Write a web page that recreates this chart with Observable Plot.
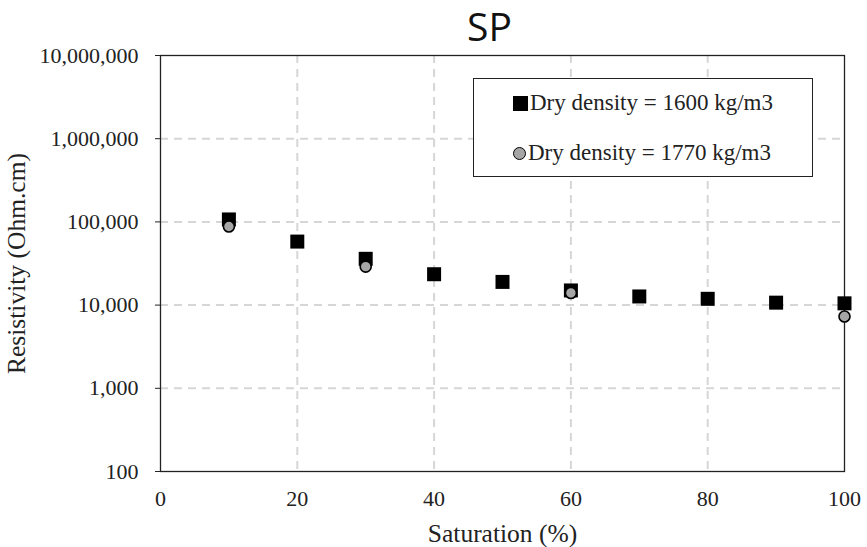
<!DOCTYPE html>
<html>
<head>
<meta charset="utf-8">
<script src="https://cdn.jsdelivr.net/npm/d3@7"></script>
<script src="https://cdn.jsdelivr.net/npm/@observablehq/plot@0.6"></script>
<style>
  html, body { margin: 0; padding: 0; background: #fff; }
  #wrap { position: relative; width: 867px; height: 547px; }
  #legend {
    position: absolute; left: 473px; top: 78px; width: 340px; height: 99px;
    border: 1px solid #222; background: #fff; box-sizing: border-box;
    font-family: "Liberation Serif", "Times New Roman", serif; font-size: 23px; color: #222;
  }
  .row { position: absolute; left: 39px; display: flex; align-items: center; height: 26px; }
  .sq { width: 15px; height: 15px; background: #000; margin-right: 2px; }
  .ci { width: 11px; height: 11px; border-radius: 50%; background: #a6a6a6; border: 1.8px solid #000; margin-right: 2px; }
</style>
</head>
<body>
<div id="wrap"></div>
<script>
const saturation1600 = [10, 20, 30, 40, 50, 60, 70, 80, 90, 100];
const resistivity1600 = [107000, 58000, 36000, 23500, 19000, 15000, 12700, 11900, 10700, 10500];
const saturation1770 = [10, 30, 60, 100];
const resistivity1770 = [88000, 29000, 14000, 7300];
const series = ["Dry density = 1600 kg/m3", "Dry density = 1770 kg/m3"];
const xTicks = [0, 20, 40, 60, 80, 100];
const yTicks = [100, 1000, 10000, 100000, 1000000, 10000000];
const title = "SP";

const d1600 = saturation1600.map((s, i) => ({s, r: resistivity1600[i]}));
const d1770 = saturation1770.map((s, i) => ({s, r: resistivity1770[i]}));

const serif = "'Liberation Serif', 'Times New Roman', serif";
const chart = Plot.plot({
  width: 867,
  height: 547,
  marginLeft: 160,
  marginRight: 23,
  marginTop: 55,
  marginBottom: 76,
  style: {fontFamily: serif, fontSize: "22px", color: "#222", background: "#fff"},
  x: {domain: [0, 100]},
  y: {type: "log", domain: [100, 10000000]},
  marks: [
    Plot.gridX(xTicks.filter(d => d > 0 && d < 100), {stroke: "#d6d6d6", strokeOpacity: 1, strokeWidth: 2, strokeDasharray: "8,6"}),
    Plot.gridY(yTicks.filter(d => d > 100 && d < 10000000), {stroke: "#d6d6d6", strokeOpacity: 1, strokeWidth: 2, strokeDasharray: "8,6"}),
    Plot.frame({stroke: "#222", strokeWidth: 1.3}),
    Plot.axisX({ticks: xTicks, tickSize: 0, tickPadding: 19, fontSize: 22, fontFamily: serif,
      label: "Saturation (%)", labelAnchor: "center", labelArrow: "none", labelOffset: 70}),
    Plot.axisY({ticks: yTicks, tickFormat: d3.format(","), tickSize: 5, tickPadding: 17, fontSize: 22, fontFamily: serif,
      label: "Resistivity (Ohm.cm)", labelAnchor: "center", labelArrow: "none", labelOffset: 154}),
    Plot.dot(d1600, {x: "s", y: "r", symbol: "square", r: 7.9, fill: "#000", stroke: "none"}),
    Plot.dot(d1770, {x: "s", y: "r", symbol: "circle", r: 5.5, fill: "#a6a6a6", stroke: "#000", strokeWidth: 1.6}),
    Plot.text([title], {frameAnchor: "top", lineAnchor: "middle", dy: -27, dx: -13, fontFamily: "'Open Sans', 'Noto Sans', sans-serif", fontSize: 39, fill: "#111"})
  ]
});
chart.querySelectorAll('[aria-label="x-axis label"], [aria-label="y-axis label"]').forEach(g => {
  g.setAttribute("font-size", "25.5");
  g.querySelectorAll("text").forEach(t => t.setAttribute("font-size", "25.5"));
});
const wrap = document.getElementById("wrap");
wrap.appendChild(chart);

const legend = document.createElement("div");
legend.id = "legend";
legend.innerHTML = `
  <div class="row" style="top:11px"><span class="sq"></span><span>${series[0]}</span></div>
  <div class="row" style="top:61px"><span class="ci"></span><span>${series[1]}</span></div>`;
wrap.appendChild(legend);
</script>
</body>
</html>
